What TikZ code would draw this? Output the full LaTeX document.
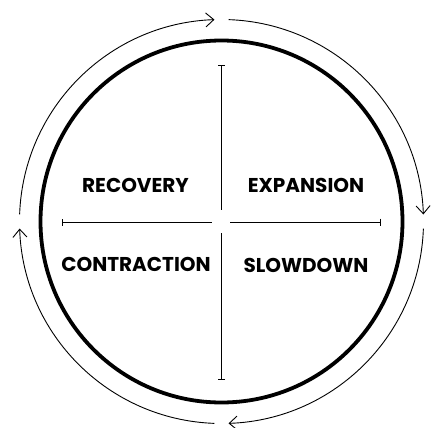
\documentclass[tikz,border=0pt]{standalone}
\usepackage{fontspec}
\usepackage{tikz}
\usetikzlibrary{arrows.meta}
\newfontfamily\phasefont{Poppins}

\tikzset{
  phase/.style={font=\phasefont\bfseries\fontsize{20}{22}\selectfont, inner sep=0pt},
  axis/.style={line width=1pt, color=black},
  cycle/.style={line width=0.9pt, -{Straight Barb[length=8pt, width=14pt, line width=0.9pt]}}
}

\begin{document}
\begin{tikzpicture}[x=1pt, y=-1pt]

\pgfmathsetmacro{\rin}{181}
\pgfmathsetmacro{\rout}{202}

\useasboundingbox (0, 0) rectangle (431, 428);

\coordinate (c) at (221.5, 221.5);

\draw[line width=3.8pt] (c) circle (\rin);

\draw[cycle] ([shift={(182:\rout)}]c) arc[start angle=182, end angle=268, radius=\rout];
\draw[cycle] ([shift={(272:\rout)}]c) arc[start angle=272, end angle=358, radius=\rout];
\draw[cycle] ([shift={(2:\rout)}]c) arc[start angle=2, end angle=88, radius=\rout];
\draw[cycle] ([shift={(92:\rout)}]c) arc[start angle=92, end angle=178, radius=\rout];

\coordinate (top) at (221.5, 65);
\coordinate (topin) at (221.5, 210);
\coordinate (bot) at (221.5, 380);
\coordinate (botin) at (221.5, 233);
\coordinate (left) at (62, 222);
\coordinate (leftin) at (212, 222);
\coordinate (right) at (381, 222);
\coordinate (rightin) at (230, 222);

\draw[axis, {Bar[width=7pt]}-] (top) -- (topin);
\draw[axis, {Bar[width=7pt]}-] (bot) -- (botin);
\draw[axis, {Bar[width=7pt]}-] (left) -- (leftin);
\draw[axis, {Bar[width=7pt]}-] (right) -- (rightin);

\node[phase] (recovery) at (135.5, 185) {RECOVERY};
\node[phase] (expansion) at (306, 185) {EXPANSION};
\node[phase] (contraction) at (136, 264.5) {CONTRACTION};
\node[phase] (slowdown) at (306, 265) {SLOWDOWN};

\end{tikzpicture}
\end{document}
